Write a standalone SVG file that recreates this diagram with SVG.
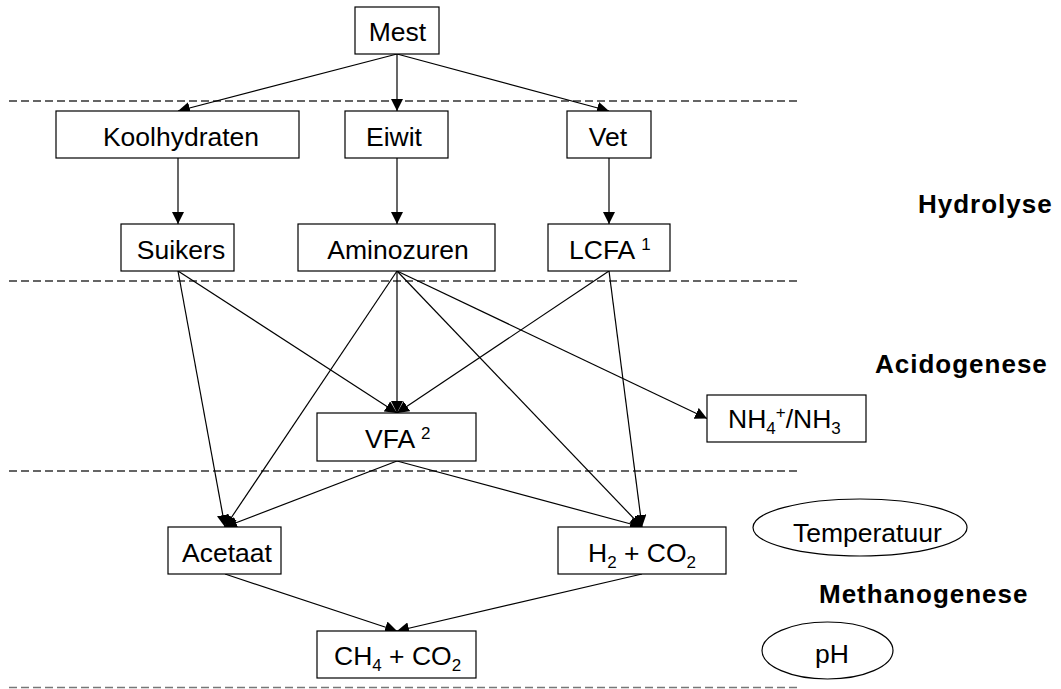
<svg xmlns="http://www.w3.org/2000/svg" width="1061" height="689" viewBox="0 0 1061 689">
<style>
.box{fill:#fff;stroke:#000;stroke-width:1.2}
.ell{fill:#fff;stroke:#000;stroke-width:1.2}
.t{font-family:"Liberation Sans",Arial,sans-serif;font-size:26.5px;fill:#000}
.m{text-anchor:middle}
.b{font-family:"Liberation Sans",Arial,sans-serif;font-size:26px;font-weight:bold;letter-spacing:1px;fill:#000}
.sm{font-size:17px}
.dash{stroke:#333;stroke-width:1.3;stroke-dasharray:8 4;fill:none}
.c line{stroke:#000;stroke-width:1.2;marker-end:url(#ah)}
</style>
<defs>
<marker id="ah" markerUnits="userSpaceOnUse" markerWidth="12" markerHeight="12" refX="12" refY="6" orient="auto">
<path d="M0,0 L12,6 L0,12 z" fill="#000"/>
</marker>
</defs>
<rect width="1061" height="689" fill="#fff"/>
<g id="separators">
<line class="dash" x1="9" y1="101" x2="800" y2="101"/>
<line class="dash" x1="9" y1="281" x2="800" y2="281"/>
<line class="dash" x1="9" y1="471" x2="800" y2="471"/>
<line class="dash" x1="9" y1="687.5" x2="800" y2="687.5" style="stroke:#777"/>
</g>
<g id="connectors" class="c">
<line x1="397" y1="54" x2="178" y2="111"/>
<line x1="397" y1="54" x2="397" y2="111"/>
<line x1="397" y1="54" x2="609" y2="111"/>
<line x1="178" y1="158" x2="178" y2="224"/>
<line x1="397" y1="158" x2="397" y2="224"/>
<line x1="609" y1="158" x2="609" y2="224"/>
<line x1="178" y1="271" x2="397" y2="413"/>
<line x1="178" y1="271" x2="225" y2="527"/>
<line x1="397" y1="271" x2="397" y2="413"/>
<line x1="397" y1="271" x2="225" y2="527"/>
<line x1="397" y1="271" x2="642" y2="527"/>
<line x1="397" y1="271" x2="707" y2="418.5"/>
<line x1="609" y1="271" x2="397" y2="413"/>
<line x1="609" y1="271" x2="642" y2="527"/>
<line x1="397" y1="461" x2="225" y2="527"/>
<line x1="397" y1="461" x2="642" y2="527"/>
<line x1="225" y1="574" x2="397" y2="631"/>
<line x1="642" y1="574" x2="397" y2="631"/>
</g>
<g id="mest"><rect class="box" x="355" y="7" width="84" height="47"/><text class="t m" x="397.5" y="41">Mest</text></g>
<g id="koolhydraten"><rect class="box" x="56" y="111" width="243" height="47"/><text class="t m" x="181" y="146">Koolhydraten</text></g>
<g id="eiwit"><rect class="box" x="345" y="111" width="103" height="47"/><text class="t m" x="394" y="146">Eiwit</text></g>
<g id="vet"><rect class="box" x="567" y="111" width="84" height="47"/><text class="t m" x="608" y="146">Vet</text></g>
<g id="suikers"><rect class="box" x="121" y="224" width="113" height="47"/><text class="t m" x="181" y="259">Suikers</text></g>
<g id="aminozuren"><rect class="box" x="298" y="224" width="197" height="47"/><text class="t m" x="398" y="259">Aminozuren</text></g>
<g id="lcfa"><rect class="box" x="548" y="224" width="122" height="47"/><text class="t" x="569" y="259">LCFA <tspan class="sm" dy="-9">1</tspan></text></g>
<g id="vfa"><rect class="box" x="317" y="413" width="159" height="48"/><text class="t" x="365" y="448">VFA <tspan class="sm" dy="-9">2</tspan></text></g>
<g id="nh4"><rect class="box" x="707" y="395" width="159" height="47"/><text class="t" x="728" y="428">NH<tspan class="sm" dy="6">4</tspan><tspan class="sm" dy="-16">+</tspan><tspan dy="10">/NH</tspan><tspan class="sm" dy="6">3</tspan></text></g>
<g id="acetaat"><rect class="box" x="168" y="527" width="113" height="47"/><text class="t m" x="227" y="562">Acetaat</text></g>
<g id="h2co2"><rect class="box" x="558" y="527" width="168" height="47"/><text class="t" x="588" y="562">H<tspan class="sm" dy="6">2</tspan><tspan dy="-6"> + CO</tspan><tspan class="sm" dy="6">2</tspan></text></g>
<g id="ch4co2"><rect class="box" x="317" y="631" width="159" height="47"/><text class="t" x="334" y="665">CH<tspan class="sm" dy="6">4</tspan><tspan dy="-6"> + CO</tspan><tspan class="sm" dy="6">2</tspan></text></g>
<g id="temperatuur"><ellipse class="ell" cx="860" cy="527.5" rx="107" ry="28.5"/><text class="t" x="793" y="542">Temperatuur</text></g>
<g id="ph"><ellipse class="ell" cx="827.5" cy="650.5" rx="65.5" ry="28.5"/><text class="t" x="815" y="663">pH</text></g>
<g id="phases">
<text class="b" x="918" y="213">Hydrolyse</text>
<text class="b" x="875" y="373">Acidogenese</text>
<text class="b" x="819" y="603">Methanogenese</text>
</g>
</svg>
